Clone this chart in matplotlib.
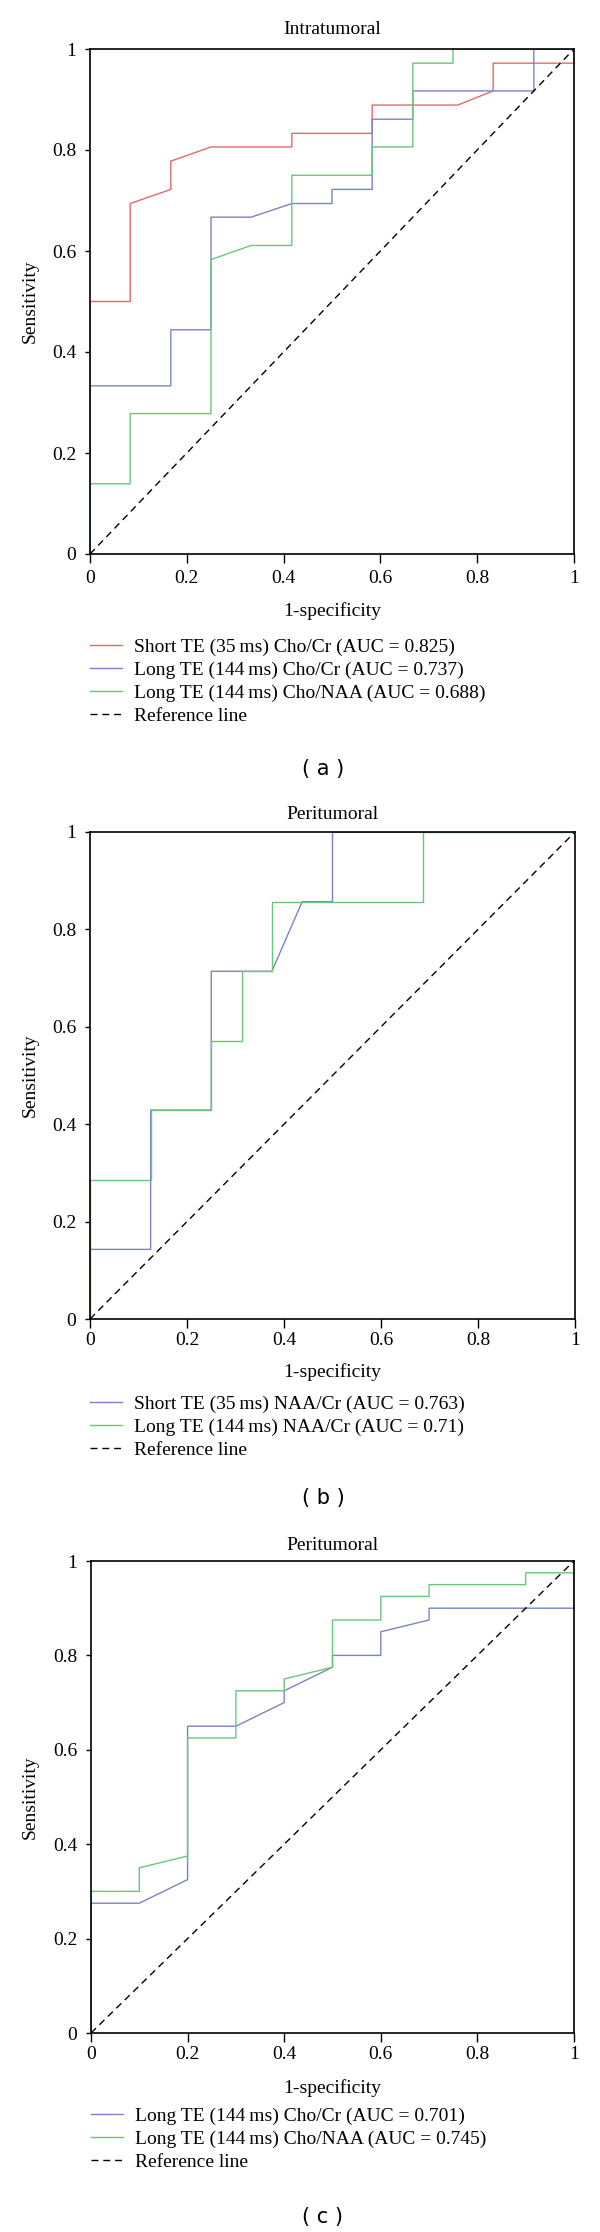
import matplotlib
matplotlib.use("Agg")
import matplotlib.pyplot as plt
from matplotlib.ticker import FuncFormatter

plt.rcParams['font.family'] = ['Liberation Serif', 'DejaVu Serif']

# ---------------- data ----------------
# Panel (a) Intratumoral
a_short_cho_cr_x = [0, 0, 0.083, 0.083, 0.167, 0.167, 0.25, 0.417, 0.417, 0.583, 0.583, 0.76, 0.833, 0.833, 1, 1]
a_short_cho_cr_y = [0, 0.5, 0.5, 0.694, 0.722, 0.778, 0.806, 0.806, 0.833, 0.833, 0.889, 0.889, 0.917, 0.972, 0.972, 1]
a_long_cho_cr_x = [0, 0, 0.167, 0.167, 0.25, 0.25, 0.333, 0.417, 0.5, 0.5, 0.583, 0.583, 0.667, 0.667, 0.917, 0.917, 1]
a_long_cho_cr_y = [0, 0.333, 0.333, 0.444, 0.444, 0.667, 0.667, 0.694, 0.694, 0.722, 0.722, 0.861, 0.861, 0.917, 0.917, 1, 1]
a_long_cho_naa_x = [0, 0, 0.083, 0.083, 0.25, 0.25, 0.333, 0.417, 0.417, 0.583, 0.583, 0.667, 0.667, 0.75, 0.75, 1]
a_long_cho_naa_y = [0, 0.139, 0.139, 0.278, 0.278, 0.583, 0.611, 0.611, 0.75, 0.75, 0.806, 0.806, 0.972, 0.972, 1, 1]
a_labels = ["Short TE (35\u2009ms) Cho/Cr (AUC = 0.825)",
            "Long TE (144\u2009ms) Cho/Cr (AUC = 0.737)",
            "Long TE (144\u2009ms) Cho/NAA (AUC = 0.688)"]

# Panel (b) Peritumoral
b_short_naa_cr_x = [0, 0, 0.125, 0.125, 0.25, 0.25, 0.375, 0.4375, 0.5, 0.5, 1]
b_short_naa_cr_y = [0, 0.143, 0.143, 0.429, 0.429, 0.714, 0.714, 0.857, 0.857, 1, 1]
b_long_naa_cr_x = [0, 0, 0.125, 0.125, 0.25, 0.25, 0.3125, 0.3125, 0.375, 0.375, 0.6875, 0.6875, 1]
b_long_naa_cr_y = [0, 0.286, 0.286, 0.429, 0.429, 0.571, 0.571, 0.714, 0.714, 0.857, 0.857, 1, 1]
b_labels = ["Short TE (35\u2009ms) NAA/Cr (AUC = 0.763)",
            "Long TE (144\u2009ms) NAA/Cr (AUC = 0.71)"]

# Panel (c) Peritumoral
c_long_cho_cr_x = [0, 0, 0.1, 0.2, 0.2, 0.3, 0.4, 0.4, 0.5, 0.5, 0.6, 0.6, 0.7, 0.7, 1, 1]
c_long_cho_cr_y = [0, 0.275, 0.275, 0.325, 0.65, 0.65, 0.7, 0.725, 0.775, 0.8, 0.8, 0.85, 0.875, 0.9, 0.9, 1]
c_long_cho_naa_x = [0, 0, 0.1, 0.1, 0.2, 0.2, 0.3, 0.3, 0.4, 0.4, 0.5, 0.5, 0.6, 0.6, 0.7, 0.7, 0.9, 0.9, 1, 1]
c_long_cho_naa_y = [0, 0.3, 0.3, 0.35, 0.375, 0.625, 0.625, 0.725, 0.725, 0.75, 0.775, 0.875, 0.875, 0.925, 0.925, 0.95, 0.95, 0.975, 0.975, 1]
c_labels = ["Long TE (144\u2009ms) Cho/Cr (AUC = 0.701)",
            "Long TE (144\u2009ms) Cho/NAA (AUC = 0.745)"]

ref_x = [0, 1]
ref_y = [0, 1]
ticks = [0, 0.2, 0.4, 0.6, 0.8, 1]
titles = ["Intratumoral", "Peritumoral", "Peritumoral"]
captions = ["( a )", "( b )", "( c )"]

# ---------------- style ----------------
RED = '#E26A6A'
BLUE = '#7A84C6'
GREEN = '#6CC67A'
FS = 14
W, H = 600, 2232

fig = plt.figure(figsize=(W / 100, H / 100), dpi=100)


def px_axes(l, t, r, b):
    return fig.add_axes([l / W, 1 - b / H, (r - l) / W, (b - t) / H])


def ftext(x, y, s, **kw):
    fig.text(x / W, 1 - y / H, s, **kw)


fmt = FuncFormatter(lambda v, p: '%g' % v)


def style_axes(ax, xpad):
    ax.set_xlim(0, 1)
    ax.set_ylim(0, 1)
    ax.set_xticks(ticks)
    ax.set_yticks(ticks)
    ax.xaxis.set_major_formatter(fmt)
    ax.yaxis.set_major_formatter(fmt)
    ax.tick_params(axis='x', direction='out', length=6.5, width=1.0, pad=xpad, labelsize=FS)
    ax.tick_params(axis='y', direction='out', length=3.8, width=1.0, pad=6.0, labelsize=FS)
    for s in ax.spines.values():
        s.set_linewidth(1.2)
    ax.plot(ref_x, ref_y, color='black', lw=1.0, ls=(0, (5, 3.5)), label='Reference line')


LW = 1.0

panels = [
    dict(box=(90, 49, 574, 554), title_y=29, tick_pad=5.0, xlabel_y=611, cap_y=769, leg_top=638,
         series=[(a_short_cho_cr_x, a_short_cho_cr_y, RED, a_labels[0]),
                 (a_long_cho_cr_x, a_long_cho_cr_y, BLUE, a_labels[1]),
                 (a_long_cho_naa_x, a_long_cho_naa_y, GREEN, a_labels[2])]),
    dict(box=(90, 832, 575, 1319), title_y=815, tick_pad=3.0, xlabel_y=1372, cap_y=1498, leg_top=1395,
         series=[(b_short_naa_cr_x, b_short_naa_cr_y, BLUE, b_labels[0]),
                 (b_long_naa_cr_x, b_long_naa_cr_y, GREEN, b_labels[1])]),
    dict(box=(91, 1561, 574, 2033), title_y=1545, tick_pad=3.0, xlabel_y=2088, cap_y=2217, leg_top=2107,
         series=[(c_long_cho_cr_x, c_long_cho_cr_y, BLUE, c_labels[0]),
                 (c_long_cho_naa_x, c_long_cho_naa_y, GREEN, c_labels[1])]),
]

for i, p in enumerate(panels):
    l, t, r, b = p['box']
    ax = px_axes(l, t, r, b)
    handles = []
    for xs, ys, col, lab in p['series']:
        h, = ax.plot(xs, ys, color=col, lw=LW, label=lab)
        handles.append(h)
    style_axes(ax, p['tick_pad'])
    ref = ax.lines[-1]
    handles.append(ref)
    cx = (l + r) / 2
    ftext(cx, p['title_y'], titles[i], ha='center', va='center', fontsize=FS)
    ftext(cx, p['xlabel_y'], '1-specificity', ha='center', va='center', fontsize=FS)
    ftext(30, (t + b) / 2, 'Sensitivity', ha='center', va='center', rotation=90, fontsize=FS)
    ftext(323, p['cap_y'], captions[i], ha='center', va='center', fontsize=15,
          family=['DejaVu Sans'])
    fig.legend(handles=handles, labels=[h.get_label() for h in handles],
               loc='upper left', bbox_to_anchor=(l / W, 1 - p['leg_top'] / H),
               frameon=False, fontsize=FS, borderpad=0, borderaxespad=0,
               handlelength=1.65, handletextpad=0.6, labelspacing=0.28)

fig.savefig('out.png', dpi=100)
